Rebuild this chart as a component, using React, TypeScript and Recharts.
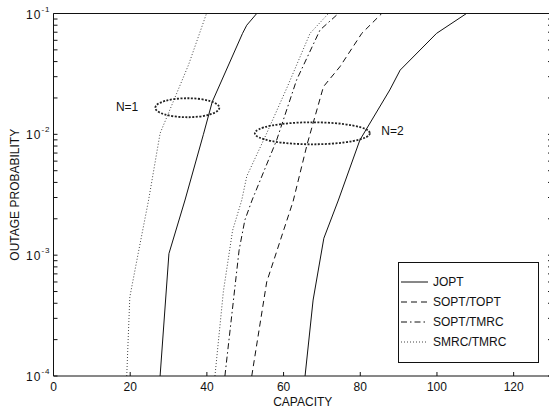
import React from 'react';
import { LineChart, Line, XAxis, YAxis, Legend, ReferenceDot } from 'recharts';

const FONT = '"Liberation Sans", Arial, Helvetica, sans-serif';
const INK = '#111';

// axis ticks
const X_TICKS = [0, 20, 40, 60, 80, 100, 120];
const Y_MAJOR = [1e-4, 1e-3, 1e-2, 1e-1];
const Y_MAJOR_LABELS = ['-4', '-3', '-2', '-1'];
const Y_TICKS = [
  1e-4, 2e-4, 3e-4, 4e-4, 5e-4, 6e-4, 7e-4, 8e-4, 9e-4,
  1e-3, 2e-3, 3e-3, 4e-3, 5e-3, 6e-3, 7e-3, 8e-3, 9e-3,
  1e-2, 2e-2, 3e-2, 4e-2, 5e-2, 6e-2, 7e-2, 8e-2, 9e-2,
  1e-1,
];
const LEGEND_NAMES = ['JOPT', 'SOPT/TOPT', 'SOPT/TMRC', 'SMRC/TMRC'];

// N=1 curves
const n1JoptCap = [27.8, 30.1, 34.3, 39.1, 41.4, 49.3, 50.4, 53.0];
const n1JoptOut = [1e-4, 1.03e-3, 2.86e-3, 1.0e-2, 1.86e-2, 6.85e-2, 8.0e-2, 1e-1];
const n1SmrcCap = [19.1, 19.9, 22.1, 24.8, 27.8, 35.2, 39.9];
const n1SmrcOut = [1e-4, 4.5e-4, 1.04e-3, 2.86e-3, 1.02e-2, 3.75e-2, 1e-1];

// N=2 curves
const n2JoptCap = [65.6, 67.7, 70.5, 74.3, 79.9, 87.7, 90.4, 99.9, 107.7];
const n2JoptOut = [1e-4, 4.25e-4, 1.38e-3, 2.86e-3, 8.97e-3, 2.33e-2, 3.4e-2, 6.85e-2, 1e-1];
const n2SoptToptCap = [51.7, 55.6, 62.5, 66.2, 70.4, 74.7, 80.4, 85.6];
const n2SoptToptOut = [1e-4, 6.0e-4, 2.8e-3, 8.4e-3, 2.48e-2, 3.63e-2, 6.85e-2, 1e-1];
const n2SoptTmrcCap = [44.7, 48.4, 49.9, 51.8, 58.2, 63.4, 69.5, 74.3];
const n2SoptTmrcOut = [1e-4, 1.1e-3, 1.95e-3, 2.86e-3, 8.97e-3, 2.82e-2, 7.3e-2, 1e-1];
const n2SmrcCap = [42.1, 44.3, 46.7, 49.1, 50.4, 55.6, 61.0, 66.9, 71.7];
const n2SmrcOut = [1e-4, 5e-4, 1.6e-3, 2.86e-3, 4.5e-3, 1.02e-2, 2.48e-2, 6.85e-2, 1e-1];

// annotation anchors (capacity, probability)
const N1_LABEL = [19.2, 0.0168];
const N2_LABEL = [88.4, 0.0106];
const N1_RING = [34.9, 0.0166];
const N2_RING = [67.5, 0.0102];

const zip = (cap: number[], out: number[]) => cap.map((c, i) => ({ cap: c, out: out[i] }));

const STYLES: Record<string, { dash?: string; color: string; width: number }> = {
  JOPT: { color: INK, width: 1 },
  'SOPT/TOPT': { dash: '6 4', color: INK, width: 1 },
  'SOPT/TMRC': { dash: '6 3 1.5 3', color: INK, width: 1 },
  'SMRC/TMRC': { dash: '1 2', color: '#444', width: 1 },
};

const series = [
  { id: 'n2-jopt', name: 'JOPT', data: zip(n2JoptCap, n2JoptOut) },
  { id: 'n2-sopt-topt', name: 'SOPT/TOPT', data: zip(n2SoptToptCap, n2SoptToptOut) },
  { id: 'n2-sopt-tmrc', name: 'SOPT/TMRC', data: zip(n2SoptTmrcCap, n2SoptTmrcOut) },
  { id: 'n2-smrc', name: 'SMRC/TMRC', data: zip(n2SmrcCap, n2SmrcOut) },
  { id: 'n1-jopt', name: 'JOPT', data: zip(n1JoptCap, n1JoptOut) },
  { id: 'n1-smrc', name: 'SMRC/TMRC', data: zip(n1SmrcCap, n1SmrcOut) },
];

const isMajor = (v: number) => Y_MAJOR.findIndex(m => Math.abs(m - v) / m < 1e-6);

const LeftTick = ({ x, y, payload }: any) => {
  const i = isMajor(payload.value);
  return (
    <g>
      <line x1={x} x2={x + 4} y1={y} y2={y} stroke={INK} />
      {i >= 0 && (
        <text x={x - 3} y={y + 5} textAnchor="end" fontSize={12} fill={INK} fontFamily={FONT} letterSpacing={1}>
          10<tspan dy={-7} fontSize={8}>{Y_MAJOR_LABELS[i]}</tspan>
        </text>
      )}
    </g>
  );
};

const RightTick = ({ x, y }: any) => <line x1={x} x2={x - 4} y1={y} y2={y} stroke={INK} />;

const BottomTick = ({ x, y, payload }: any) => (
  <g>
    <line x1={x} x2={x} y1={y} y2={y - 4} stroke={INK} />
    <text x={x} y={y + 15} textAnchor="middle" fontSize={12} fill={INK} fontFamily={FONT}>
      {payload.value}
    </text>
  </g>
);

const TopTick = ({ x, y }: any) => <line x1={x} x2={x} y1={y} y2={y + 4} stroke={INK} />;

// legend holds the four N=2 styles only
const LegendBox = () => (
  <div
    style={{
      width: 141,
      height: 101,
      boxSizing: 'border-box',
      border: `1px solid ${INK}`,
      background: '#fff',
      paddingTop: 9,
      fontFamily: FONT,
      fontSize: 12,
      color: INK,
    }}
  >
    {LEGEND_NAMES.map(name => {
      const s = STYLES[name];
      return (
        <div key={name} style={{ display: 'flex', alignItems: 'center', height: 20 }}>
          <svg width={30} height={20}>
            <line x1={2} x2={29} y1={10} y2={10} stroke={s.color} strokeWidth={s.width} strokeDasharray={s.dash} />
          </svg>
          <span style={{ marginLeft: 4 }}>{name}</span>
        </div>
      );
    })}
  </div>
);

const ring = (rx: number, ry: number) => (p: any) => (
  <ellipse cx={p.cx} cy={p.cy} rx={rx} ry={ry} fill="none" stroke="#222" strokeWidth={1.8} strokeDasharray="2 1.5" />
);

const tag = (text: string) => (p: any) => (
  <text x={p.cx} y={p.cy + 4} textAnchor="middle" fontSize={12} fill={INK} fontFamily={FONT}>
    {text}
  </text>
);

export default function App() {
  return (
    <div style={{ position: 'absolute', left: 0, top: 0, width: 549, height: 411, overflow: 'hidden', background: '#fff' }}>
      <LineChart width={556} height={411} margin={{ top: 12.5, right: 3, bottom: 34, left: 52.5 }} style={{ fontFamily: FONT }}>
        <XAxis
          type="number"
          dataKey="cap"
          domain={[0, 130]}
          ticks={X_TICKS}
          interval={0}
          allowDataOverflow
          height={1}
          tickSize={0}
          tickMargin={0}
          tickLine={false}
          tick={<BottomTick />}
          axisLine={{ stroke: INK }}
          label={(p: any) => (
            <text
              x={p.viewBox.x + p.viewBox.width / 2}
              y={p.viewBox.y + 30}
              textAnchor="middle"
              fontSize={12}
              fill={INK}
              fontFamily={FONT}
            >
              CAPACITY
            </text>
          )}
        />
        <XAxis
          xAxisId="top"
          orientation="top"
          type="number"
          domain={[0, 130]}
          ticks={X_TICKS}
          interval={0}
          allowDataOverflow
          height={1}
          tickSize={0}
          tickMargin={0}
          tickLine={false}
          tick={<TopTick />}
          axisLine={{ stroke: INK }}
        />
        <YAxis
          type="number"
          scale="log"
          domain={[1e-4, 1e-1]}
          ticks={Y_TICKS}
          interval={0}
          allowDataOverflow
          width={1}
          tickSize={0}
          tickMargin={0}
          tickLine={false}
          tick={<LeftTick />}
          axisLine={{ stroke: INK }}
          label={(p: any) => {
            const cy = p.viewBox.y + p.viewBox.height / 2;
            return (
              <text
                x={15}
                y={cy}
                transform={`rotate(-90 15 ${cy})`}
                textAnchor="middle"
                dominantBaseline="central"
                fontSize={12}
                fill={INK}
                fontFamily={FONT}
              >
                OUTAGE PROBABILITY
              </text>
            );
          }}
        />
        <YAxis
          yAxisId="right"
          orientation="right"
          type="number"
          scale="log"
          domain={[1e-4, 1e-1]}
          ticks={Y_TICKS}
          interval={0}
          allowDataOverflow
          width={1}
          tickSize={0}
          tickMargin={0}
          tickLine={false}
          tick={<RightTick />}
          axisLine={{ stroke: INK }}
        />
        {series.map(s => {
          const st = STYLES[s.name];
          return (
            <Line
              key={s.id}
              data={s.data}
              dataKey="out"
              name={s.name}
              type="linear"
              stroke={st.color}
              strokeWidth={st.width}
              strokeDasharray={st.dash}
              dot={false}
              activeDot={false}
              isAnimationActive={false}
            />
          );
        })}
        <ReferenceDot x={N1_RING[0]} y={N1_RING[1]} r={1} shape={ring(32, 9.5)} />
        <ReferenceDot x={N2_RING[0]} y={N2_RING[1]} r={1} shape={ring(57.5, 11)} />
        <ReferenceDot x={N1_LABEL[0]} y={N1_LABEL[1]} r={1} shape={tag('N=1')} />
        <ReferenceDot x={N2_LABEL[0]} y={N2_LABEL[1]} r={1} shape={tag('N=2')} />
        <Legend
          layout="vertical"
          align="center"
          verticalAlign="middle"
          content={<LegendBox />}
          wrapperStyle={{ left: 398, top: 262, width: 141, height: 101 }}
        />
      </LineChart>
    </div>
  );
}
